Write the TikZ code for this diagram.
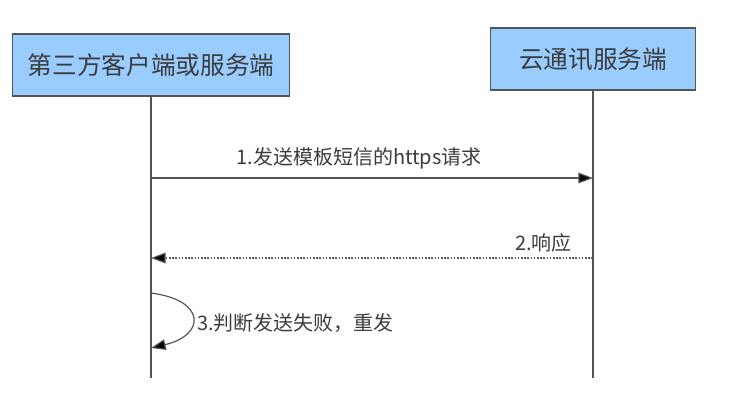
\documentclass[tikz,border=0pt]{standalone}
\usepackage{fontspec}
\setmainfont{Noto Sans CJK SC}
\usetikzlibrary{arrows.meta}
\definecolor{boxblue}{RGB}{153,204,255}
\definecolor{linegray}{RGB}{85,85,85}
\definecolor{textgray}{RGB}{60,60,60}
\tikzset{
  actor/.style={draw=linegray, fill=boxblue, line width=0.9pt, text=textgray,
    minimum height=46.5pt, inner sep=0pt, font=\fontsize{18.5}{20}\selectfont},
  lifeline/.style={draw=linegray, line width=0.8pt},
  msg/.style={draw=linegray, line width=0.9pt, -{Triangle[length=11pt,width=8pt,fill=black]}},
  reply/.style={msg, dash pattern=on 1.2pt off 1.2pt},
  msglabel/.style={text=textgray, inner sep=0pt, font=\fontsize{15}{17}\selectfont}
}
\begin{document}
\begin{tikzpicture}[x=0.75pt,y=-0.75pt]
\useasboundingbox (0,0) rectangle (737,409);

% participants
\node[actor, minimum width=207.75pt] (client) at (151,65) {第三方客户端或服务端};
\node[actor, minimum width=153.75pt] (server) at (593,59) {云通讯服务端};

% lifelines
\coordinate (clientend) at (client.south |- 0,378);
\coordinate (serverend) at (server.south |- 0,378);
\draw[lifeline] (client.south) -- (clientend);
\draw[lifeline] (server.south) -- (serverend);

% 1. request
\coordinate (c1) at (client.south |- 0,178);
\coordinate (s1) at (server.south |- 0,178);
\draw[msg] (c1) -- (s1);
\node[msglabel] (m1) at (359,158) {1.发送模板短信的https请求};

% 2. response
\coordinate (s2) at (server.south |- 0,258);
\coordinate (c2) at (client.south |- 0,258);
\draw[reply] (s2) -- (c2);
\node[msglabel, anchor=east] (m2) at (572,243) {2.响应};

% 3. retry
\coordinate (c3a) at (client.south |- 0,293);
\coordinate (c3b) at (client.south |- 0,348);
\draw[msg] (c3a) .. controls (206,300) and (206,335) .. (c3b);
\node[msglabel, anchor=west] (m3) at (197,323) {3.判断发送失败，重发};
\end{tikzpicture}
\end{document}
